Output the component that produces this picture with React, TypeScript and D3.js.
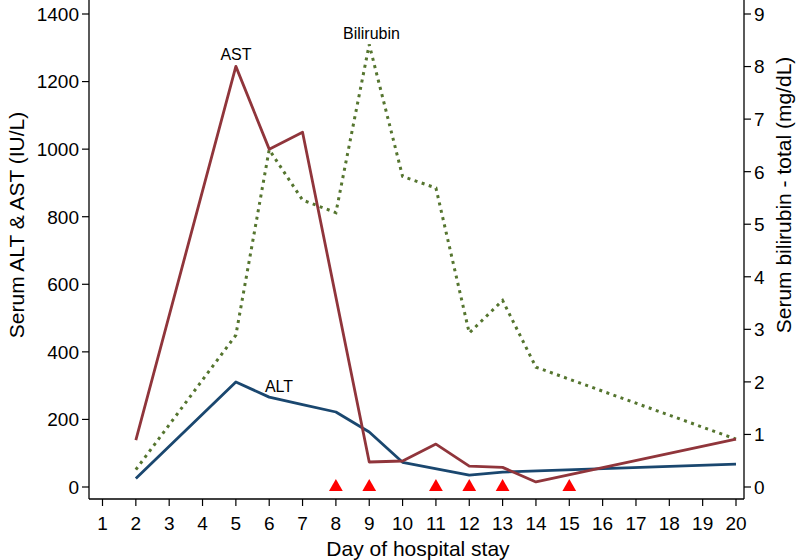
import React from "react";
import * as d3 from "d3";

const altDays = [2, 5, 6, 7, 8, 9, 10, 12, 13, 20];
const altValues = [25, 311, 266, 244, 222, 163, 73, 35, 44, 68];

const astDays = [2, 5, 6, 7, 9, 10, 11, 12, 13, 14, 20];
const astValues = [139, 1245, 1000, 1050, 74, 77, 127, 62, 58, 15, 142];

const biliDays = [2, 5, 6, 7, 8, 9, 10, 11, 12, 13, 14, 20];
const biliValues = [0.33, 2.89, 6.42, 5.46, 5.22, 8.42, 5.91, 5.69, 2.93, 3.55, 2.28, 0.91];

const markerDays = [8, 9, 11, 12, 13, 15];

const xTicks = d3.range(1, 21);
const leftTicks = [0, 200, 400, 600, 800, 1000, 1200, 1400];
const rightTicks = [0, 1, 2, 3, 4, 5, 6, 7, 8, 9];

const FONT = "'Liberation Sans', Arial, Helvetica, sans-serif";

export default function App() {
  const W = 800;
  const H = 560;
  const axisLeft = 89;
  const axisRight = 744;
  const axisBottom = 499;

  const x = d3.scaleLinear().domain([1, 20]).range([102.5, 736]);
  const yL = d3.scaleLinear().domain([0, 1400]).range([487, 14]);
  const yR = d3.scaleLinear().domain([0, 9]).range([487, 14]);

  const pts = (days: number[], vals: number[]) => days.map((d, i) => [d, vals[i]] as [number, number]);

  const lineL = d3
    .line<[number, number]>()
    .x((d) => x(d[0]))
    .y((d) => yL(d[1]));
  const lineR = d3
    .line<[number, number]>()
    .x((d) => x(d[0]))
    .y((d) => yR(d[1]));

  const tri = d3.symbol().type(d3.symbolTriangle).size(82)();

  return (
    <svg
      width={W}
      height={H}
      style={{ position: "absolute", left: 0, top: 0, background: "#fff" }}
      fontFamily={FONT}
    >
      <rect x={0} y={0} width={W} height={H} fill="#fff" />

      {/* axes lines */}
      <line x1={axisLeft} x2={axisLeft} y1={0} y2={axisBottom} stroke="#000" strokeWidth={1.3} />
      <line x1={axisRight} x2={axisRight} y1={0} y2={axisBottom} stroke="#000" strokeWidth={1.3} />
      <line x1={axisLeft} x2={axisRight} y1={axisBottom} y2={axisBottom} stroke="#000" strokeWidth={1.3} />

      {/* x ticks */}
      {xTicks.map((t) => (
        <g key={"x" + t}>
          <line x1={x(t)} x2={x(t)} y1={axisBottom} y2={axisBottom + 7} stroke="#000" strokeWidth={1.2} />
          <text x={x(t)} y={530} fontSize={19} textAnchor="middle" fill="#000">
            {t}
          </text>
        </g>
      ))}

      {/* left ticks */}
      {leftTicks.map((t) => (
        <g key={"l" + t}>
          <line x1={axisLeft - 7} x2={axisLeft} y1={yL(t)} y2={yL(t)} stroke="#000" strokeWidth={1.2} />
          <text x={axisLeft - 10} y={yL(t)} dy="0.36em" fontSize={19} textAnchor="end" fill="#000">
            {t}
          </text>
        </g>
      ))}

      {/* right ticks */}
      {rightTicks.map((t) => (
        <g key={"r" + t}>
          <line x1={axisRight} x2={axisRight + 7} y1={yR(t)} y2={yR(t)} stroke="#000" strokeWidth={1.2} />
          <text x={axisRight + 10} y={yR(t)} dy="0.36em" fontSize={19} textAnchor="start" fill="#000">
            {t}
          </text>
        </g>
      ))}

      {/* axis titles */}
      <text x={418} y={556} fontSize={21} textAnchor="middle" fill="#000">
        Day of hospital stay
      </text>
      <text
        transform={`translate(24,225) rotate(-90)`}
        fontSize={21}
        textAnchor="middle"
        fill="#000"
      >
        Serum ALT &amp; AST (IU/L)
      </text>
      <text
        transform={`translate(791,195) rotate(-90)`}
        fontSize={21}
        textAnchor="middle"
        fill="#000"
      >
        Serum bilirubin - total (mg/dL)
      </text>

      {/* series */}
      <path
        d={lineR(pts(biliDays, biliValues)) || ""}
        fill="none"
        stroke="#55752f"
        strokeWidth={3}
        strokeDasharray="3,4.5"
      />
      <path d={lineL(pts(altDays, altValues)) || ""} fill="none" stroke="#1a476f" strokeWidth={2.8} strokeLinejoin="round" />
      <path d={lineL(pts(astDays, astValues)) || ""} fill="none" stroke="#90353b" strokeWidth={2.8} strokeLinejoin="round" />

      {/* markers */}
      {markerDays.map((d) => (
        <path key={"m" + d} d={tri || ""} transform={`translate(${x(d)},${yR(0)})`} fill="#ff0000" />
      ))}

      {/* labels */}
      <text x={236} y={59.5} fontSize={16} textAnchor="middle" fill="#000">
        AST
      </text>
      <text x={371.5} y={39} fontSize={16} textAnchor="middle" fill="#000">
        Bilirubin
      </text>
      <text x={279} y={392} fontSize={16} textAnchor="middle" fill="#000">
        ALT
      </text>
    </svg>
  );
}
